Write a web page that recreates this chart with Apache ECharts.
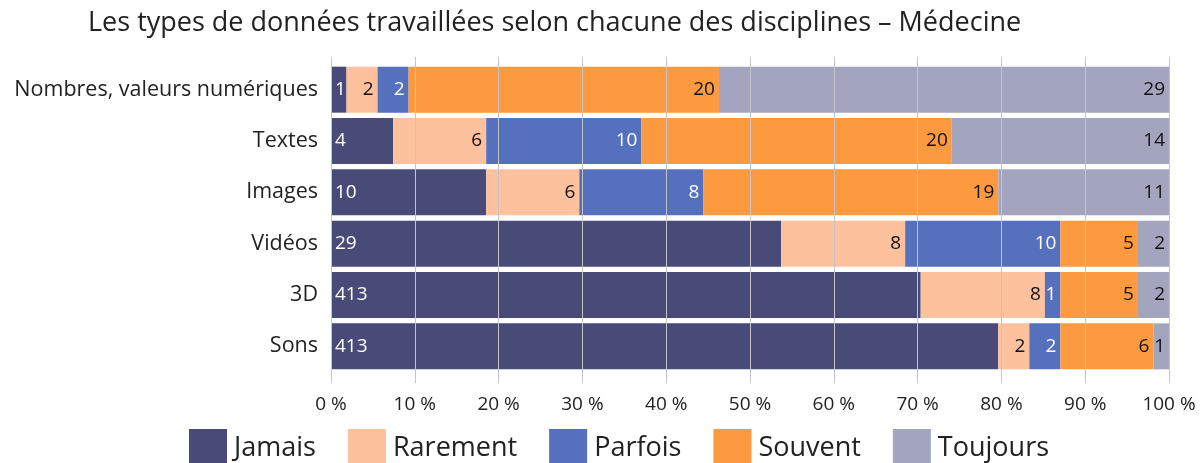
<!DOCTYPE html>
<html>
<head>
<meta charset="utf-8">
<script src="https://cdn.jsdelivr.net/npm/echarts@6/dist/echarts.min.js"></script>
<style>
  html, body { margin: 0; padding: 0; background: #fff; }
  #chart { width: 1201px; height: 463px; }
</style>
</head>
<body>
<div id="chart"></div>
<script>
const categories = ['Nombres, valeurs numériques', 'Textes', 'Images', 'Vidéos', '3D', 'Sons']
const seriesNames = ['Jamais', 'Rarement', 'Parfois', 'Souvent', 'Toujours']
const jamais = [1, 4, 10, 29, 38, 43]
const rarement = [2, 6, 6, 8, 8, 2]
const parfois = [2, 10, 8, 10, 1, 2]
const souvent = [20, 20, 19, 5, 5, 6]
const toujours = [29, 14, 11, 2, 2, 1]
// libellés tels qu'affichés dans l'original
const jamaisLabels = ['1', '4', '10', '29', '413', '413']
const xTicks = [0, 10, 20, 30, 40, 50, 60, 70, 80, 90, 100]

const colors = ['#484b78', '#fec19d', '#5570bd', '#fd9a40', '#a3a5bf']
const labelColors = ['#fff', '#111', '#fff', '#111', '#111']
const FONT = 'Open Sans'

const raw = [jamais, rarement, parfois, souvent, toujours]
const totals = categories.map((_, i) => raw.reduce((s, arr) => s + arr[i], 0))

const chart = echarts.init(document.getElementById('chart'))

const barSeries = raw.map((arr, k) => ({
  name: seriesNames[k],
  type: 'bar',
  stack: 'total',
  barWidth: 46,
  xAxisIndex: 0,
  yAxisIndex: 0,
  itemStyle: { color: colors[k] },
  label: {
    show: true,
    position: k === 0 ? 'insideLeft' : 'insideRight',
    distance: 4,
    color: labelColors[k],
    fontFamily: FONT,
    fontSize: 19,
    formatter: (p) => k === 0 ? jamaisLabels[p.dataIndex] : String(arr[p.dataIndex])
  },
  data: arr.map((v, i) => v / totals[i] * 100)
}))

const option = {
  animation: false,
  textStyle: { fontFamily: FONT },
  title: {
    text: 'Les types de données travaillées selon chacune des disciplines – Médecine',
    left: 83,
    top: 5,
    textStyle: { fontFamily: FONT, fontSize: 27, fontWeight: 'normal', color: '#222' }
  },
  legend: {
    data: seriesNames,
    left: 184,
    top: 424,
    itemWidth: 38,
    itemHeight: 38,
    itemGap: 32,
    icon: 'rect',
    textStyle: { fontFamily: FONT, fontSize: 27, color: '#222', padding: [0, 0, 0, 2] }
  },
  grid: [
    { left: 331, right: 32, top: 64, bottom: 91 },
    { left: 331, right: 32, top: 57, bottom: 80 }
  ],
  xAxis: [
    { gridIndex: 0, type: 'value', min: 0, max: 100, show: false },
    {
      gridIndex: 1,
      type: 'value',
      min: 0,
      max: 100,
      interval: 10,
      z: 5,
      axisLine: { show: false },
      axisTick: { show: false },
      splitLine: { show: true, lineStyle: { color: '#c4c4c4', width: 1 } },
      axisLabel: {
        margin: 12,
        fontFamily: FONT,
        fontSize: 19,
        color: '#222',
        formatter: (v) => xTicks.includes(v) ? v + ' %' : ''
      }
    }
  ],
  yAxis: [
    {
      gridIndex: 0,
      type: 'category',
      inverse: true,
      data: categories,
      axisLine: { show: false },
      axisTick: { show: false },
      axisLabel: { margin: 13, fontFamily: FONT, fontSize: 21.5, color: '#222' }
    },
    { gridIndex: 1, type: 'value', min: 0, max: 1, show: false }
  ],
  series: barSeries.concat([{
    type: 'line',
    xAxisIndex: 1,
    yAxisIndex: 1,
    data: [],
    silent: true
  }])
}

chart.setOption(option)
</script>
</body>
</html>
